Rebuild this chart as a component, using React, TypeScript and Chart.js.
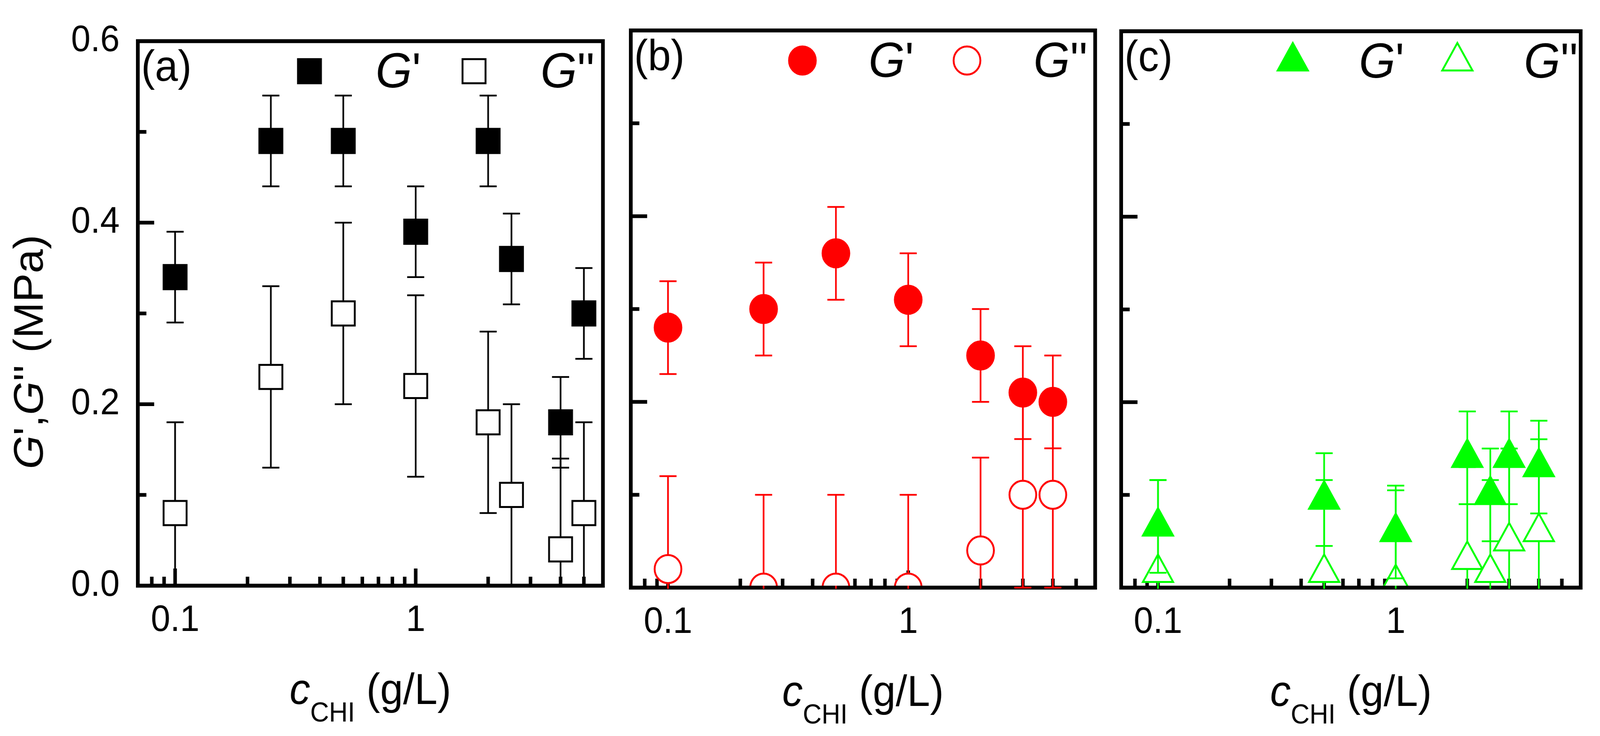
import { useEffect, useRef } from "react"
import { Chart, registerables } from "chart.js"

Chart.register(...registerables)

// the figure is laid out on a 4307x1885 grid and the canvases are fitted to the window
const W = 4307
const H = 1885
const FONT = "'Liberation Sans', Arial, sans-serif"

// panel (a): black squares
const X_A = [0.1, 0.25, 0.5, 1, 2, 2.5, 4, 5]
const G1_A = [0.34, 0.49, 0.49, 0.39, 0.49, 0.36, 0.18, 0.3]
const G1_A_ERR = [0.05, 0.05, 0.05, 0.05, 0.05, 0.05, 0.05, 0.05]
const G2_A = [0.08, 0.23, 0.3, 0.22, 0.18, 0.1, 0.04, 0.08]
const G2_A_ERR = [0.1, 0.1, 0.1, 0.1, 0.1, 0.1, 0.1, 0.1]

// panel (b): red circles
const X_B = [0.1, 0.25, 0.5, 1, 2, 3, 4]
const G1_B = [0.28, 0.3, 0.36, 0.31, 0.25, 0.21, 0.2]
const G1_B_ERR = [0.05, 0.05, 0.05, 0.05, 0.05, 0.05, 0.05]
const G2_B = [0.02, 0, 0, 0, 0.04, 0.1, 0.1]
const G2_B_ERR = [0.1, 0.1, 0.1, 0.1, 0.1, 0.1, 0.1]

// panel (c): green triangles
const X_C = [0.1, 0.5, 1, 2, 2.5, 3, 4]
const G1_C = [0.066, 0.095, 0.06, 0.14, 0.1, 0.14, 0.13]
const G1_C_ERR = [0.05, 0.05, 0.05, 0.05, 0.05, 0.05, 0.05]
const G2_C = [0.016, 0.016, 0.005, 0.03, 0.016, 0.05, 0.06]
const G2_C_ERR = [0.1, 0.1, 0.1, 0.1, 0.1, 0.1, 0.1]

const X_TICKS = [0.08, 0.09, 0.1, 0.2, 0.3, 0.4, 0.5, 0.6, 0.7, 0.8, 0.9, 1, 2, 3, 4, 5]
const X_LABELS = ["", "", "0.1", "", "", "", "", "", "", "", "", "1", "", "", "", ""]
const X_MAJOR = [0.1, 1]
const Y_TICKS = [0, 0.1, 0.2, 0.3, 0.4, 0.5, 0.6]
const Y_LABELS = ["0.0", "", "0.2", "", "0.4", "", "0.6"]
const Y_MAJOR = [0, 0.2, 0.4, 0.6]

type Panel = {
  label: string
  color: string
  style: "rect" | "circle" | "triangle"
  radius: number
  x: number[]
  g1: number[]
  g1Err: number[]
  g2: number[]
  g2Err: number[]
  area: { left: number; top: number; right: number; bottom: number }
  yLabels: boolean
}

const PANELS: Panel[] = [
  {
    label: "(a)", color: "#000000", style: "rect", radius: 43.8,
    x: X_A, g1: G1_A, g1Err: G1_A_ERR, g2: G2_A, g2Err: G2_A_ERR,
    area: { left: 371, top: 74, right: 1623, bottom: 1500 }, yLabels: true,
  },
  {
    label: "(b)", color: "#ff0000", style: "circle", radius: 36,
    x: X_B, g1: G1_B, g1Err: G1_B_ERR, g2: G2_B, g2Err: G2_B_ERR,
    area: { left: 1698, top: 78, right: 2948, bottom: 1505 }, yLabels: false,
  },
  {
    label: "(c)", color: "#00ff00", style: "triangle", radius: 47,
    x: X_C, g1: G1_C, g1Err: G1_C_ERR, g2: G2_C, g2Err: G2_C_ERR,
    area: { left: 3018, top: 80, right: 4269, bottom: 1505 }, yLabels: false,
  },
]

type Part = { text: string; size: number; italic?: boolean; dy?: number }

function drawRich(ctx: CanvasRenderingContext2D, parts: Part[], x: number, y: number, align: "left" | "center") {
  ctx.textAlign = "left"
  ctx.textBaseline = "alphabetic"
  let total = 0
  for (const p of parts) {
    ctx.font = `${p.italic ? "italic " : ""}${p.size}px ${FONT}`
    total += ctx.measureText(p.text).width
  }
  let cx = align === "center" ? x - total / 2 : x
  for (const p of parts) {
    ctx.font = `${p.italic ? "italic " : ""}${p.size}px ${FONT}`
    ctx.fillText(p.text, cx, y + (p.dy || 0))
    cx += ctx.measureText(p.text).width
  }
}

function drawMarker(ctx: CanvasRenderingContext2D, style: string, x: number, y: number, r: number, fill: string, stroke: string) {
  ctx.beginPath()
  if (style === "rect") {
    const s = Math.SQRT1_2 * r
    ctx.rect(x - s, y - s, 2 * s, 2 * s)
  } else if (style === "circle") {
    ctx.arc(x, y, r, 0, Math.PI * 2)
  } else {
    for (let k = 0; k < 3; k++) {
      const ang = (k * 2 * Math.PI) / 3
      const px = x + Math.sin(ang) * r
      const py = y - Math.cos(ang) * r
      if (k === 0) ctx.moveTo(px, py)
      else ctx.lineTo(px, py)
    }
    ctx.closePath()
  }
  ctx.fillStyle = fill
  ctx.fill()
  ctx.lineWidth = 5
  ctx.strokeStyle = stroke
  ctx.stroke()
}

// error bars go under each dataset's own markers, but over the axis frame
const errorBars = {
  id: "errorBars",
  beforeDatasetDraw(chart: any, args: any) {
    const ds = chart.data.datasets[args.index]
    if (!ds.errors) return
    const { ctx, chartArea: a, scales } = chart
    ctx.save()
    ctx.beginPath()
    ctx.rect(a.left, a.top, a.right - a.left, a.bottom - a.top + 3)
    ctx.clip()
    ctx.strokeStyle = ds.borderColor
    ctx.lineWidth = 4.5
    ds.data.forEach((p: { x: number; y: number }, i: number) => {
      const e = ds.errors[i]
      const x = scales.x.getPixelForValue(p.x)
      const y1 = scales.y.getPixelForValue(p.y + e)
      const y2 = scales.y.getPixelForValue(p.y - e)
      ctx.beginPath()
      ctx.moveTo(x, y1)
      ctx.lineTo(x, y2)
      ctx.moveTo(x - 23, y1)
      ctx.lineTo(x + 23, y1)
      ctx.moveTo(x - 23, y2)
      ctx.lineTo(x + 23, y2)
      ctx.stroke()
    })
    ctx.restore()
  },
}

function decor(panel: Panel) {
  return {
    id: "decor",
    beforeDatasetsDraw(chart: any) {
      const { ctx, chartArea: a, scales } = chart
      ctx.save()
      ctx.strokeStyle = "#000"
      ctx.lineWidth = 9.5
      ctx.beginPath()
      X_TICKS.forEach((v) => {
        const x = scales.x.getPixelForValue(v)
        const len = X_MAJOR.includes(v) ? 44 : 23
        ctx.moveTo(x, a.bottom)
        ctx.lineTo(x, a.bottom - len)
      })
      Y_TICKS.forEach((v) => {
        if (v === 0 || v === 0.6) return
        const y = scales.y.getPixelForValue(v)
        const len = Y_MAJOR.includes(v) ? 44 : 23
        ctx.moveTo(a.left, y)
        ctx.lineTo(a.left + len, y)
      })
      ctx.stroke()
      ctx.lineWidth = 10
      ctx.strokeRect(a.left, a.top, a.right - a.left, a.bottom - a.top)
      ctx.restore()
    },
    afterDatasetsDraw(chart: any) {
      const { ctx, chartArea: a } = chart
      ctx.save()
      ctx.fillStyle = "#000"
      drawRich(ctx, [{ text: panel.label, size: 111 }], a.left + 9, a.top + 102, "left")

      // legend
      drawMarker(ctx, panel.style, a.left + 462, a.top + 77, panel.radius, panel.color, panel.color)
      ctx.fillStyle = "#000"
      drawRich(ctx, [{ text: "G", size: 126, italic: true }, { text: "'", size: 126 }], a.left + 640, a.top + 119, "left")
      drawMarker(ctx, panel.style, a.left + 905, a.top + 77, panel.radius, "#ffffff", panel.color)
      ctx.fillStyle = "#000"
      drawRich(ctx, [{ text: "G", size: 126, italic: true }, { text: "''", size: 126 }], a.left + 1084, a.top + 119, "left")

      // x title
      drawRich(
        ctx,
        [
          { text: "c", size: 111, italic: true },
          { text: "CHI", size: 70, dy: 45 },
          { text: " (g/L)", size: 111 },
        ],
        (a.left + a.right) / 2,
        a.bottom + 303,
        "center",
      )

      if (panel.yLabels) {
        ctx.translate(a.left - 256, a.top + 796)
        ctx.rotate(-Math.PI / 2)
        drawRich(
          ctx,
          [
            { text: "G", size: 111, italic: true },
            { text: "',", size: 111 },
            { text: "G", size: 111, italic: true },
            { text: "'' (MPa)", size: 111 },
          ],
          0,
          0,
          "center",
        )
      }
      ctx.restore()
    },
  }
}

function makeConfig(panel: Panel): any {
  const a = panel.area
  const pts = (ys: number[]) => panel.x.map((x, i) => ({ x, y: ys[i] }))
  const common = {
    pointStyle: panel.style,
    pointRadius: panel.radius,
    borderWidth: 5,
    borderColor: panel.color,
    showLine: false,
    clip: -5,
  }
  return {
    type: "scatter",
    data: {
      datasets: [
        { ...common, label: "G'", data: pts(panel.g1), errors: panel.g1Err, backgroundColor: panel.color },
        { ...common, label: "G''", data: pts(panel.g2), errors: panel.g2Err, backgroundColor: "#ffffff" },
      ],
    },
    options: {
      responsive: false,
      devicePixelRatio: 1,
      animation: false,
      events: [],
      layout: {
        padding: { left: panel.yLabels ? 0 : a.left, top: a.top, right: W - a.right, bottom: 0 },
      },
      plugins: { legend: { display: false }, tooltip: { enabled: false } },
      scales: {
        x: {
          type: "logarithmic",
          min: 0.07,
          max: 6,
          afterBuildTicks: (s: any) => {
            s.ticks = X_TICKS.map((v) => ({ value: v }))
          },
          afterFit: (s: any) => {
            s.height = H - a.bottom
          },
          ticks: {
            autoSkip: false,
            maxRotation: 0,
            minRotation: 0,
            padding: 34,
            color: "#000",
            font: { size: 94, family: FONT },
            callback: (_v: any, i: number) => X_LABELS[i],
          },
          grid: { display: false, drawTicks: false },
          border: { display: false },
        },
        y: {
          type: "linear",
          min: 0,
          max: 0.6,
          afterBuildTicks: (s: any) => {
            s.ticks = Y_TICKS.map((v) => ({ value: v }))
          },
          afterFit: (s: any) => {
            s.width = panel.yLabels ? a.left : 0
          },
          ticks: {
            display: panel.yLabels,
            padding: 49,
            color: "#000",
            font: { size: 94, family: FONT },
            callback: (_v: any, i: number) => Y_LABELS[i],
          },
          grid: { display: false, drawTicks: false },
          border: { display: false },
        },
      },
    },
    plugins: [errorBars, decor(panel)],
  }
}

export default function App() {
  const refs = [useRef<HTMLCanvasElement>(null), useRef<HTMLCanvasElement>(null), useRef<HTMLCanvasElement>(null)]
  const vw = window.innerWidth || W
  const vh = window.innerHeight || H

  useEffect(() => {
    document.body.style.margin = "0"
    document.body.style.overflow = "hidden"
    const charts = PANELS.map((p, i) => new Chart(refs[i].current!, makeConfig(p)))
    return () => {
      charts.forEach((c) => c.destroy())
    }
  }, [])

  return (
    <div style={{ position: "absolute", left: 0, top: 0, width: vw, height: vh, background: "#fff", overflow: "hidden" }}>
      {refs.map((r, i) => (
        <canvas
          key={i}
          ref={r}
          width={W}
          height={H}
          style={{ position: "absolute", left: 0, top: 0, width: `${vw}px`, height: `${vh}px` }}
        />
      ))}
    </div>
  )
}
